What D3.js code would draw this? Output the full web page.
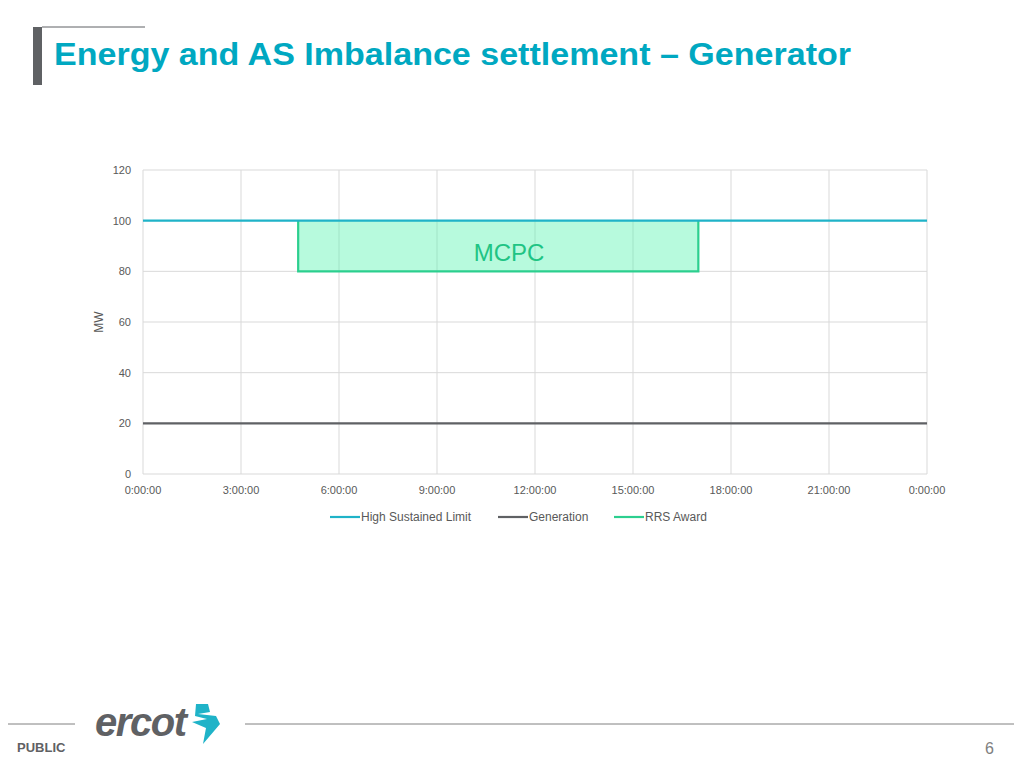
<!DOCTYPE html><html><head><meta charset="utf-8"><script src="https://cdn.jsdelivr.net/npm/d3@7"></script>
<style>body{margin:0;background:#fff;font-family:"Liberation Sans",Arial,sans-serif}</style></head><body><svg id="c" width="1024" height="768"></svg>
<script>
const xTicks=[0,3,6,9,12,15,18,21,24];
const xTickLabels=["0:00:00","3:00:00","6:00:00","9:00:00","12:00:00","15:00:00","18:00:00","21:00:00","0:00:00"];
const yTicks=[0,20,40,60,80,100,120];
const hslHours=[0,24], hslValues=[100,100];
const genHours=[0,24], genValues=[20,20];
const rrsHours=[4.75,4.75,17,17], rrsValues=[100,80,80,100];
const mcpcStart=4.75, mcpcEnd=17, mcpcLow=80, mcpcHigh=100;
const legendNames=["High Sustained Limit","Generation","RRS Award"];
const colors=["#1fb3c8","#5f6164","#2ccf8f"];

const svg=d3.select("#c");
svg.append("rect").attr("x",33).attr("y",27).attr("width",9).attr("height",58).attr("fill","#5f6164");
svg.append("line").attr("x1",42).attr("x2",145).attr("y1",27).attr("y2",27).attr("stroke","#5f6164").attr("stroke-width",1);
svg.append("text").attr("x",54).attr("y",65).attr("font-size",32).attr("font-weight","bold").attr("fill","#00a8c1").attr("textLength",797).attr("lengthAdjust","spacingAndGlyphs").text("Energy and AS Imbalance settlement – Generator");

const x=d3.scaleLinear().domain([0,24]).range([143,927]);
const y=d3.scaleLinear().domain([0,120]).range([474,170]);
const g=svg.append("g");
xTicks.forEach(t=>g.append("line").attr("x1",x(t)).attr("x2",x(t)).attr("y1",y(0)).attr("y2",y(120)).attr("stroke","#d9d9d9"));
yTicks.forEach(t=>g.append("line").attr("x1",x(0)).attr("x2",x(24)).attr("y1",y(t)).attr("y2",y(t)).attr("stroke","#d9d9d9"));
yTicks.forEach(t=>g.append("text").attr("x",131).attr("y",y(t)+4).attr("text-anchor","end").attr("font-size",11).attr("fill","#595959").text(t));
xTicks.forEach((t,i)=>g.append("text").attr("x",x(t)).attr("y",494).attr("text-anchor","middle").attr("font-size",11).attr("fill","#595959").text(xTickLabels[i]));
g.append("text").attr("transform","translate(103,322) rotate(-90)").attr("text-anchor","middle").attr("font-size",12).attr("fill","#595959").text("MW");

g.append("rect").attr("x",x(mcpcStart)).attr("y",y(mcpcHigh)).attr("width",x(mcpcEnd)-x(mcpcStart)).attr("height",y(mcpcLow)-y(mcpcHigh)).attr("fill","#5ff5b4").attr("fill-opacity",0.45);
const line=d3.line().x(d=>x(d[0])).y(d=>y(d[1]));
const series=[d3.zip(hslHours,hslValues),d3.zip(genHours,genValues),d3.zip(rrsHours,rrsValues)];
g.append("path").attr("d",line(series[2])).attr("fill","none").attr("stroke",colors[2]).attr("stroke-width",2.2);
g.append("path").attr("d",line(series[1])).attr("fill","none").attr("stroke",colors[1]).attr("stroke-width",2.2);
g.append("path").attr("d",line(series[0])).attr("fill","none").attr("stroke",colors[0]).attr("stroke-width",2.2);
g.append("text").attr("x",509).attr("y",261).attr("text-anchor","middle").attr("font-size",24).attr("fill","#1fc484").text("MCPC");

const lx=[330,498,614];
legendNames.forEach((n,i)=>{
 g.append("line").attr("x1",lx[i]).attr("x2",lx[i]+30).attr("y1",517).attr("y2",517).attr("stroke",colors[i]).attr("stroke-width",2.2);
 g.append("text").attr("x",lx[i]+31).attr("y",521).attr("font-size",12).attr("fill","#595959").text(n);
});
svg.append("line").attr("x1",8).attr("x2",75).attr("y1",724).attr("y2",724).attr("stroke","#808080");
svg.append("line").attr("x1",245).attr("x2",1014).attr("y1",724).attr("y2",724).attr("stroke","#808080");
svg.append("text").attr("x",95).attr("y",736).attr("font-size",40).attr("font-style","italic").attr("font-weight","bold").attr("fill","#5f6164").attr("textLength",92).text("ercot");
svg.append("path").attr("d","M196,704 L208,704 L210,712 L198,714 L216,716 L220,724 L203,744 L206,728 L192,722 L207,719 L195,716 Z").attr("fill","#1fb3c8");
svg.append("text").attr("x",17).attr("y",752).attr("font-size",13).attr("font-weight","bold").attr("fill","#5f6164").text("PUBLIC");
svg.append("text").attr("x",994).attr("y",754).attr("text-anchor","end").attr("font-size",16).attr("fill","#808080").text("6");
</script></body></html>
